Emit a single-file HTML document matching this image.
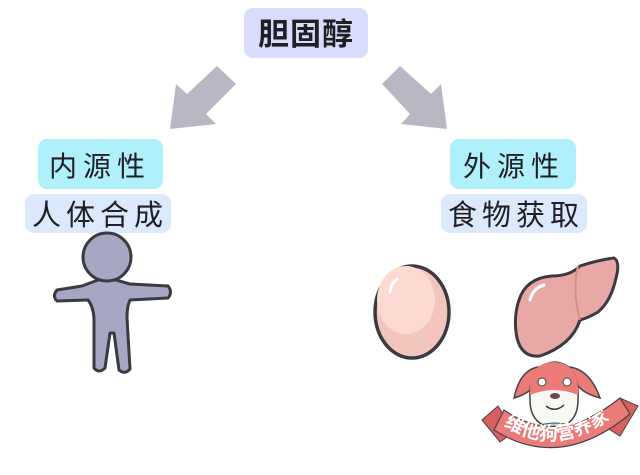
<!DOCTYPE html>
<html><head><meta charset="utf-8"><style>
html,body{margin:0;padding:0;background:#fff;width:640px;height:475px;overflow:hidden}
svg{display:block}
.t{font-family:"Liberation Sans","Noto Sans CJK SC",sans-serif;fill:#1f1f24}
</style></head><body>
<svg width="640" height="475" viewBox="0 0 640 475" xmlns="http://www.w3.org/2000/svg">
<rect x="244" y="8" width="124" height="50" rx="9" fill="#d9dcfd"/>
<text x="306" y="45" class="t" font-size="31" font-weight="bold" text-anchor="middle" letter-spacing="1">胆固醇</text>
<polygon points="217,66 236,84 206,114 216,124 170,129 176,84 187,94" fill="#b8b8c4"/>
<polygon points="400,66 382,84 410,114 401,124 447,129 441,84 431,94" fill="#b8b8c4"/>
<rect x="38" y="139" width="125" height="50" rx="9" fill="#b0f0fb"/>
<text x="100" y="176" class="t" font-size="28" text-anchor="middle" letter-spacing="6">内源性</text>
<rect x="25" y="194" width="146" height="39" rx="9" fill="#dbe9fd"/>
<text x="100" y="225" class="t" font-size="29" text-anchor="middle" letter-spacing="5">人体合成</text>
<rect x="450" y="139" width="126" height="50" rx="9" fill="#b0f0fb"/>
<text x="514" y="176" class="t" font-size="28" text-anchor="middle" letter-spacing="6">外源性</text>
<rect x="441" y="194" width="146" height="39" rx="9" fill="#dbe9fd"/>
<text x="516" y="225" class="t" font-size="29" text-anchor="middle" letter-spacing="5">食物获取</text>
<!-- person -->
<g fill="#a7a7c3" stroke="#3a3a40" stroke-width="3" stroke-linejoin="round">
<path d="M98,280 L82,286 L57,290 Q52,296 57,301 L88,300 Q93,306 94,318 L94,368 Q99,374 105,368 L110,333 L114,333 L119,370 Q125,375 130,369 L127,318 Q127,306 130,300 L168,298 Q173,292 168,286 L130,284 L116,280 Z"/>
<circle cx="107" cy="257" r="24"/>
</g>
<!-- egg -->
<ellipse cx="412" cy="312" rx="37" ry="46" fill="#f2c6bd" stroke="#3a3a40" stroke-width="3.5"/>
<ellipse cx="406" cy="300" rx="29" ry="34" fill="#fcd9d1"/>
<path d="M390,292 Q391,283 397,279" stroke="#fff" stroke-width="3" fill="none" stroke-linecap="round"/>
<!-- liver -->
<path d="M519,300 Q526,278 552,276 Q570,276 580,266 Q598,260 614,258 Q621,262 615,282 Q610,302 598,312 Q588,318 580,320 Q572,345 540,356 Q522,358 517,338 Q513,318 519,300 Z" fill="#e8a9a6" stroke="#3a3a40" stroke-width="3"/>
<path d="M578,266 Q572,290 580,320" stroke="#d08f8c" stroke-width="2" fill="none"/>
<path d="M530,300 Q533,288 544,285" stroke="#fff" stroke-width="3" fill="none" stroke-linecap="round"/>
<!-- mascot -->
<path d="M538,367 Q520,370 514,398 Q528,394 534,386 Z" fill="#ec7a78" stroke="#444" stroke-width="1.5"/>
<path d="M570,367 Q590,370 600,398 Q585,394 578,386 Z" fill="#ec7a78" stroke="#444" stroke-width="1.5"/>
<path d="M530,400 Q528,365 554,362 Q580,363 578,400 Q578,425 554,428 Q530,425 530,400Z" fill="#f7f7f4" stroke="#444" stroke-width="1.5"/>
<path d="M530,395 Q528,362 554,362 Q580,363 578,395 Q554,385 530,395Z" fill="#ec7a78"/>
<circle cx="542" cy="382" r="4" fill="#fff" stroke="#444"/><circle cx="567" cy="382" r="4" fill="#fff" stroke="#444"/>
<ellipse cx="555" cy="396" rx="5" ry="3" fill="#6a4a4a"/>
<path d="M546,406 Q555,413 564,405" stroke="#333" fill="none" stroke-width="1.5"/>
<path d="M533,428 Q554,418 578,428 L578,438 L533,438Z" fill="#a8e2ec" stroke="#444"/>
<path d="M482,420 L498,406 L514,432 L500,442 Z" fill="#d9605f" stroke="#444" stroke-width="1"/>
<path d="M638,406 L620,398 L604,426 L620,436 Z" fill="#d9605f" stroke="#444" stroke-width="1"/>
<path d="M494,430 Q560,472 630,414 L620,398 Q558,448 504,410 Z" fill="#ec7a78" stroke="#444" stroke-width="1.2"/>
<path id="arc" d="M502,424 Q560,464 626,406" fill="none"/>
<text font-family="Liberation Sans,'Noto Sans CJK SC',sans-serif" font-size="19" font-weight="bold" fill="#fff"><textPath href="#arc" startOffset="2">维他狗营养家</textPath></text>
</svg>
</body></html>
